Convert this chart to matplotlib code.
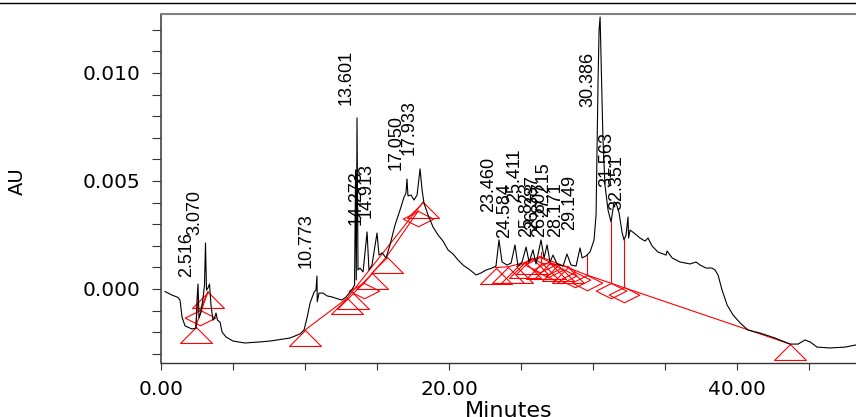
import matplotlib
matplotlib.use("Agg")
import matplotlib.pyplot as plt
from matplotlib.ticker import MultipleLocator, FuncFormatter
from matplotlib.path import Path
from matplotlib.lines import Line2D

# ---- chromatogram trace (minutes, AU) ----
trace = [
    (0.28, -0.00012), (0.76, -0.00028), (1.18, -0.00039), (1.32, -0.00051), (1.46, -0.00130),
    (1.67, -0.00171), (2.15, -0.00185), (2.43, -0.00181), (2.50, -0.00051), (2.57, 0.00023),
    (2.64, -0.00134), (2.78, -0.00106), (2.92, -0.00042), (3.02, 0.00019), (3.09, 0.00213),
    (3.16, -0.00005), (3.26, 0.00005), (3.37, 0.00023), (3.47, -0.00074), (3.61, -0.00144),
    (3.72, -0.00134), (3.82, -0.00111), (3.92, -0.00144), (4.10, -0.00153), (4.24, -0.00199),
    (4.51, -0.00222), (5.00, -0.00241), (5.83, -0.00250), (6.88, -0.00245), (7.57, -0.00241),
    (8.96, -0.00227), (9.65, -0.00208), (9.93, -0.00190), (10.14, -0.00134), (10.35, -0.00065),
    (10.63, -0.00014), (10.76, -0.00005), (10.83, 0.00060), (10.85, -0.00059), (10.97, -0.00019),
    (11.25, -0.00019), (11.53, -0.00032), (11.88, -0.00037), (12.29, -0.00046), (12.57, -0.00051),
    (12.85, -0.00037), (13.13, -0.00014), (13.33, 0.00005), (13.44, 0.00019), (13.51, 0.00551),
    (13.56, 0.00042), (13.61, 0.00792), (13.68, 0.00088), (13.82, 0.00097), (14.03, 0.00079),
    (14.31, 0.00264), (14.44, 0.00088), (14.65, 0.00111), (15.00, 0.00259), (15.14, 0.00157),
    (15.35, 0.00167), (15.63, 0.00144), (15.90, 0.00204), (16.25, 0.00296), (16.60, 0.00366),
    (16.88, 0.00426), (17.01, 0.00444), (17.08, 0.00509), (17.15, 0.00431), (17.36, 0.00435),
    (17.57, 0.00412), (17.78, 0.00435), (17.99, 0.00556), (18.13, 0.00458), (18.26, 0.00398),
    (18.54, 0.00343), (18.89, 0.00287), (19.24, 0.00250), (19.58, 0.00222), (19.93, 0.00181),
    (20.28, 0.00162), (20.63, 0.00134), (20.97, 0.00111), (21.46, 0.00088), (21.88, 0.00065),
    (22.22, 0.00074), (22.57, 0.00088), (22.99, 0.00097), (23.26, 0.00106), (23.47, 0.00227),
    (23.68, 0.00125), (24.03, 0.00111), (24.31, 0.00120), (24.58, 0.00204), (24.79, 0.00106),
    (25.07, 0.00125), (25.35, 0.00194), (25.56, 0.00125), (25.83, 0.00181), (26.04, 0.00116),
    (26.39, 0.00227), (26.60, 0.00144), (26.81, 0.00204), (27.01, 0.00125), (27.22, 0.00157),
    (27.50, 0.00116), (27.92, 0.00106), (28.19, 0.00162), (28.47, 0.00111), (28.82, 0.00106),
    (29.10, 0.00190), (29.24, 0.00144), (29.51, 0.00153), (29.79, 0.00171), (30.07, 0.00227),
    (30.21, 0.00343), (30.28, 0.00644), (30.35, 0.00968), (30.42, 0.01199), (30.49, 0.01259),
    (30.59, 0.00968), (30.69, 0.00690), (30.83, 0.00481), (31.04, 0.00366), (31.25, 0.00310),
    (31.46, 0.00403), (31.60, 0.00398), (31.81, 0.00352), (32.01, 0.00264), (32.15, 0.00227),
    (32.29, 0.00250), (32.43, 0.00333), (32.47, 0.00236), (32.57, 0.00273), (32.85, 0.00259),
    (33.26, 0.00236), (33.61, 0.00222), (33.82, 0.00236), (34.10, 0.00199), (34.51, 0.00171),
    (35.07, 0.00157), (35.14, 0.00176), (35.49, 0.00144), (36.04, 0.00125), (36.74, 0.00116),
    (37.15, 0.00125), (37.43, 0.00111), (37.85, 0.00097), (38.26, 0.00097), (38.47, 0.00088),
    (38.68, 0.00065), (38.96, -0.00005), (39.31, -0.00074), (39.72, -0.00120), (40.21, -0.00157),
    (40.76, -0.00190), (41.60, -0.00204), (42.64, -0.00227), (43.68, -0.00255), (44.24, -0.00255),
    (44.72, -0.00236), (45.07, -0.00245), (45.56, -0.00269), (46.46, -0.00273), (47.50, -0.00269),
    (48.26, -0.00259),
]

# ---- peak labels: text and anchor (right edge time, bottom AU) ----
peak_labels = ["2.516", "3.070", "10.773", "13.601", "14.273", "14.913", "17.050", "17.933",
               "23.460", "24.584", "25.411", "25.823", "26.387", "26.807", "27.215", "28.171",
               "29.149", "30.386", "31.563", "32.351"]
label_t = [2.36, 2.92, 10.69, 13.47, 14.13, 14.86, 16.94, 17.85,
           23.33, 24.44, 25.15, 26.00, 26.39, 26.87, 27.15, 27.99,
           28.96, 30.21, 31.53, 32.22]
label_au = [0.00056, 0.00250, 0.00097, 0.00852, 0.00296, 0.00329, 0.00551, 0.00620,
            0.00356, 0.00236, 0.00403, 0.00241, 0.00273, 0.00241, 0.00333, 0.00241,
            0.00273, 0.00843, 0.00472, 0.00366]

# ---- integration events ----
tri_events = [(2.41, -0.00175), (3.26, -0.000125), (10.0, -0.0019), (12.92, -0.00043),
              (13.35, -0.0002), (14.67, 0.00073), (15.67, 0.0015), (18.22, 0.00404),
              (23.24, 0.00099), (24.12, 0.00103), (24.70, 0.00103), (25.28, 0.00123),
              (25.79, 0.00142), (26.44, 0.00119), (27.01, 0.00119), (27.59, 0.00111),
              (28.28, 0.00103), (43.68, -0.00255)]
dia_events = [(2.71, -0.00097), (14.12, 0.00029), (17.87, 0.00362), (26.32, 0.0015),
              (26.9, 0.00123), (27.8, 0.00095), (28.75, 0.0008), (29.56, 0.00065),
              (31.23, 0.00028), (32.15, 0.00007)]
baselines = [((2.41, -0.00175), (3.26, -0.000125)), ((2.41, -0.00175), (2.59, -0.00036)),
             ((2.71, -0.00097), (3.26, -0.000125)),
             ((10.0, -0.0019), (12.92, -0.00043)), ((12.92, -0.00043), (18.22, 0.00404)),
             ((13.35, -0.0002), (14.12, 0.00029)), ((14.12, 0.00029), (14.67, 0.00073)),
             ((14.67, 0.00073), (15.67, 0.0015)), ((15.67, 0.0015), (17.87, 0.00362)),
             ((23.24, 0.00099), (24.12, 0.00103)), ((24.12, 0.00103), (25.28, 0.00123)),
             ((24.70, 0.00103), (26.32, 0.0015)), ((25.28, 0.00123), (25.79, 0.00142)),
             ((25.79, 0.00142), (26.44, 0.00119)), ((26.44, 0.00119), (27.59, 0.00111)),
             ((27.01, 0.00119), (28.28, 0.00103)), ((28.28, 0.00103), (28.75, 0.0008)),
             ((26.32, 0.0015), (29.56, 0.00065)), ((29.56, 0.00065), (43.68, -0.00255))]
drop_lines = [(26.39, 0.00171, 0.00125), (29.56, 0.00157, 0.00065),
              (31.23, 0.00310, 0.00028), (32.15, 0.00227, 0.00007)]

RED = "#ff0000"

fig = plt.figure(figsize=(8.56, 4.17), dpi=100)
ax = fig.add_axes([161 / 856, 1 - 363 / 417, 695 / 856, 349 / 417])

tx = [p[0] for p in trace]
ty = [p[1] for p in trace]
ax.plot(tx, ty, color="black", lw=0.8, zorder=3)

for (a, b) in baselines:
    ax.plot([a[0], b[0]], [a[1], b[1]], color=RED, lw=0.8, zorder=2)
for (t, top, bot) in drop_lines:
    ax.plot([t, t], [top, bot], color=RED, lw=0.8, zorder=2)

tri_marker = Path([(0, 0), (-1, -1), (1, -1), (0, 0)])
dia_marker = Path([(0, 0), (1, -0.5), (0, -1), (-1, -0.5), (0, 0)])
ax.plot([p[0] for p in tri_events], [p[1] for p in tri_events], linestyle="none",
        marker=tri_marker, markersize=23, markerfacecolor="none",
        markeredgecolor=RED, markeredgewidth=0.8, zorder=2)
ax.plot([p[0] for p in dia_events], [p[1] for p in dia_events], linestyle="none",
        marker=dia_marker, markersize=22, markerfacecolor="none",
        markeredgecolor=RED, markeredgewidth=0.8, zorder=2)

for txt, lt, la in zip(peak_labels, label_t, label_au):
    ax.text(lt, la, txt, rotation=90, ha="right", va="bottom",
            fontsize=13, family="Liberation Sans", color="black", zorder=4)

ax.set_xlim(0, 48.26)
ax.set_ylim(-0.003426, 0.012731)

ax.xaxis.set_major_locator(MultipleLocator(20))
ax.xaxis.set_minor_locator(MultipleLocator(5))
ax.yaxis.set_major_locator(MultipleLocator(0.005))
ax.yaxis.set_minor_locator(MultipleLocator(0.001))
ax.xaxis.set_major_formatter(FuncFormatter(lambda v, p: f"{v:.2f}"))
ax.yaxis.set_major_formatter(FuncFormatter(lambda v, p: f"{v:.3f}"))

ax.tick_params(axis="y", which="both", direction="out", length=6.5, width=0.8,
               color="#333333", pad=8.5, labelsize=14.5)
ax.tick_params(axis="x", which="both", direction="out", length=5, width=0.8,
               color="#333333", pad=7, labelsize=14.5)

ax.spines["right"].set_visible(False)
ax.spines["top"].set_color("#808080")
ax.spines["top"].set_linewidth(1.5)
ax.spines["left"].set_color("#444444")
ax.spines["left"].set_linewidth(1.2)
ax.spines["bottom"].set_color("#333333")
ax.spines["bottom"].set_linewidth(1.0)

ax.set_xlabel("Minutes", fontsize=16, labelpad=2)
ax.set_ylabel("AU", fontsize=14)
ax.yaxis.set_label_coords(-0.193, 0.52)

fig.add_artist(Line2D([0, 1], [1 - 2.7 / 417, 1 - 2.7 / 417], color="black", lw=1.0,
                      transform=fig.transFigure))

fig.savefig("out.png", dpi=100)
